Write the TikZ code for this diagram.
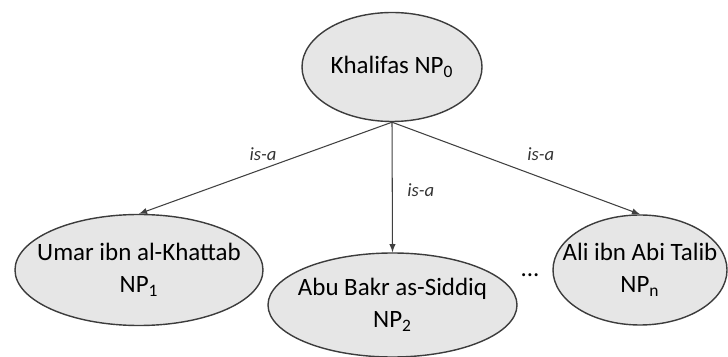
\documentclass[tikz,border=0pt]{standalone}
\usepackage{fontspec}
\setmainfont{Carlito}
\usepackage{tikz}
\usetikzlibrary{arrows}
\usetikzlibrary{shapes.geometric}
\tikzset{>=latex}
\definecolor{npfill}{HTML}{E6E6E6}
\definecolor{npline}{HTML}{3C3C3C}
\tikzset{np/.style={ellipse, draw=npline, fill=npfill, line width=0.8pt, inner sep=0pt, font=\fontsize{14.2}{18.2}\selectfont}}
\tikzset{isa/.style={font=\fontsize{10.6}{12}\selectfont\itshape, text=black!80}}
\tikzset{isaline/.style={->, draw=black!75, line width=0.6pt}}
\newcommand{\nptext}[1]{\makebox[0pt]{\begin{tabular}{@{}c@{}}#1\end{tabular}}}

\begin{document}
\begin{tikzpicture}
    \useasboundingbox (0, 0) rectangle (14.56, -7.14);

    % Draw the class node.
    \node[np, minimum width=3.6cm, minimum height=2.18cm] (khalifas) at (7.84, -1.34) {\nptext{Khalifas NP\textsubscript{0}}};

    % Draw the instances.
    \node[np, minimum width=4.96cm, minimum height=2.22cm] (umar) at (2.78, -5.4) {\nptext{Umar ibn al-Khattab\\NP\textsubscript{1}}};
    \node[np, minimum width=4.98cm, minimum height=2.08cm] (abubakr) at (7.85, -6.1) {\nptext{Abu Bakr as-Siddiq\\NP\textsubscript{2}}};
    \node[np, minimum width=3.48cm, minimum height=2.2cm] (ali) at (12.8, -5.4) {\nptext{Ali ibn Abi Talib\\NP\textsubscript{n}}};
    \node[font=\fontsize{14.2}{18.2}\selectfont] (dots) at (10.6, -5.5) {...};

    % Draw the is-a links.
    \draw[isaline] (khalifas.south) -- (umar.north) node[isa, pos=.51, above=1pt] {is-a};
    \draw[isaline] (khalifas.south) -- (abubakr.north) node[isa, pos=.52, right=5pt] {is-a};
    \draw[isaline] (khalifas.south) -- (ali.north) node[isa, pos=.6, above=6pt] {is-a};
\end{tikzpicture}
\end{document}
